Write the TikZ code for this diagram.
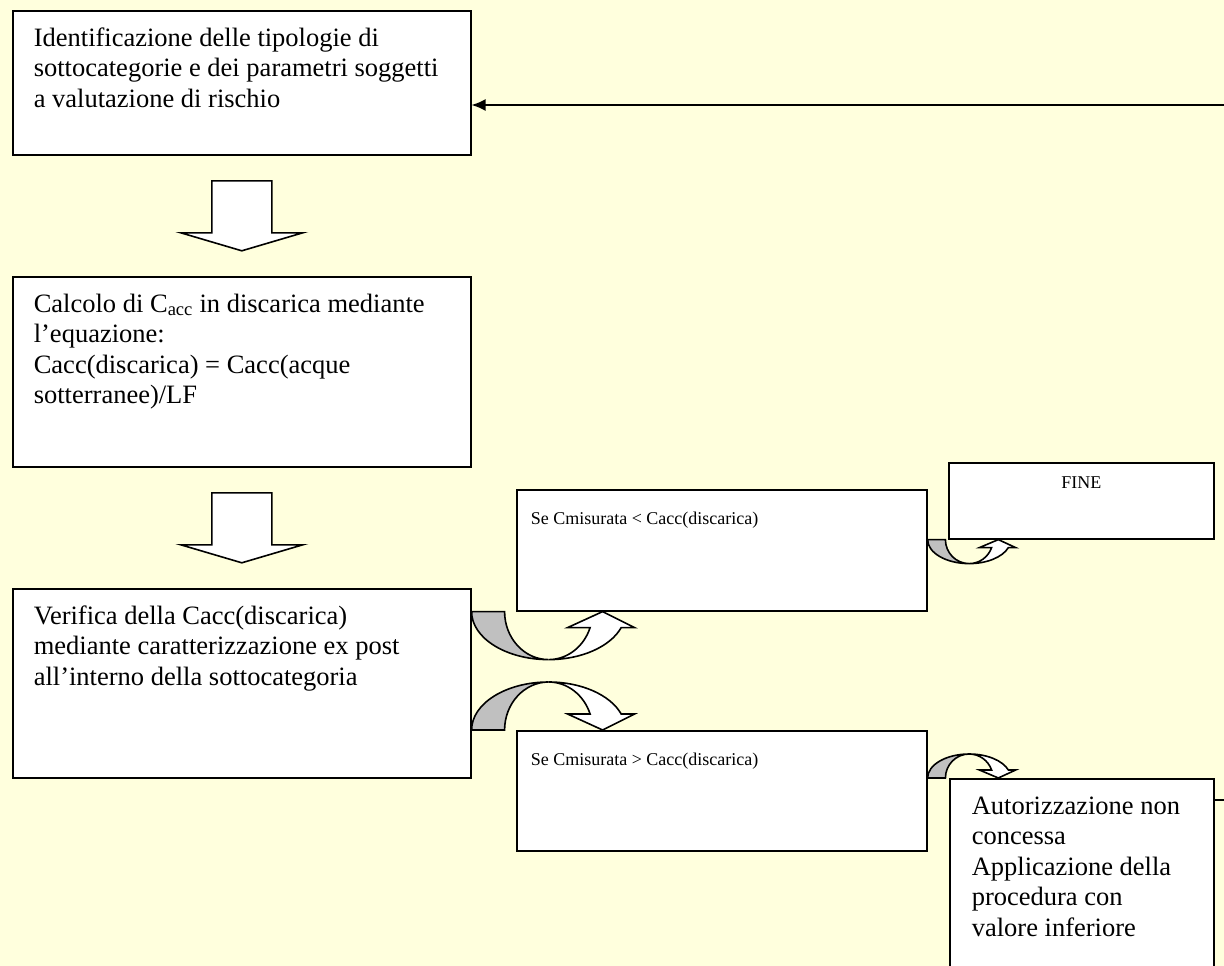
\documentclass[tikz,border=0pt]{standalone}
\usepackage{fontspec}
\setmainfont{Liberation Serif}
\usetikzlibrary{arrows.meta,calc}
\definecolor{sfondo}{RGB}{255,255,221}
\definecolor{grigio}{RGB}{192,192,192}
% testo in alto a sinistra dentro un riquadro di misura fissa
\newcommand{\riquadro}[3]{\begin{minipage}[c][#2pt][t]{#1pt}\raggedright #3\end{minipage}}

\begin{document}
\begin{tikzpicture}[x=1pt,y=-1pt,>={Latex[length=14pt,width=12pt]},line width=1.6pt,
        blocco/.style={draw,fill=white,rectangle,anchor=north west,inner xsep=21pt,inner ysep=17pt,
            font=\fontsize{26.5}{30.5}\selectfont},
        esito/.style={blocco,inner xsep=14pt,inner ysep=22pt,font=\fontsize{18}{21}\selectfont},
        giu/.pic={\filldraw[fill=white] (-30,-35) -- (30,-35) -- (30,17) -- (61,17) -- (0,35)
            -- (-61,17) -- (-30,17) -- cycle;},
        curva/.pic={
            \filldraw[fill=grigio] (0,0) arc[start angle=180,end angle=90,x radius=77,y radius=48]
                arc[start angle=90,end angle=180,x radius=44,y radius=48] -- cycle;
            \filldraw[fill=white] (77,48) arc[start angle=90,end angle=19.47,x radius=77,y radius=48]
                -- (163,16) -- (131,0) -- (96,16) -- (118.5,16)
                arc[start angle=19.47,end angle=90,x radius=44,y radius=48] -- cycle;}]

    \path[fill=sfondo,use as bounding box] (0,0) rectangle (1224,966);

    \node[blocco] (ident) at (12,10) {\riquadro{416}{110}{Identificazione delle tipologie di\\
        sottocategorie e dei parametri soggetti\\ a valutazione di rischio}};
    \node[blocco] (calcolo) at (12,276) {\riquadro{416}{156}{Calcolo di C\textsubscript{acc} in discarica mediante\\
        l’equazione:\\ Cacc(discarica) = Cacc(acque\\ sotterranee)/LF}};
    \node[blocco] (verifica) at (12,588) {\riquadro{416}{155}{Verifica della Cacc(discarica)\\
        mediante caratterizzazione ex post\\ all’interno della sottocategoria}};
    \node[esito] (minore) at (516,489) {\riquadro{382}{77}{Se Cmisurata < Cacc(discarica)}};
    \node[esito] (maggiore) at (516,730) {\riquadro{382}{76}{Se Cmisurata > Cacc(discarica)}};
    \node[esito,inner ysep=14pt] (fine) at (948,462)
        {\riquadro{237}{48}{\centering FINE}};
    \node[blocco,inner xsep=22pt,inner ysep=18pt] (aut) at (949,778) {\riquadro{220}{184}{Autorizzazione non\\
        concessa\\ Applicazione della\\ procedura con\\ valore inferiore}};

    \coordinate (ritorno) at (1224,105);
    \coordinate (uscita) at (1224,800);

    % frecce a blocco
    \pic at ($(ident.south)!0.5!(calcolo.north)$) {giu};
    \pic at ($(calcolo.south)!0.5!(verifica.north)$) {giu};

    % frecce curve
    \pic at (verifica.east |- minore.south) {curva};
    \pic[yscale=-1] at (verifica.east |- maggiore.north) {curva};
    \pic[xscale=0.54,yscale=0.5] at (minore.east |- fine.south) {curva};
    \pic[xscale=0.54,yscale=-0.5] at (maggiore.east |- aut.north) {curva};

    \draw[->] (ritorno) -- (ritorno -| ident.east);
    \draw (aut.east |- uscita) -- (uscita);
\end{tikzpicture}
\end{document}
